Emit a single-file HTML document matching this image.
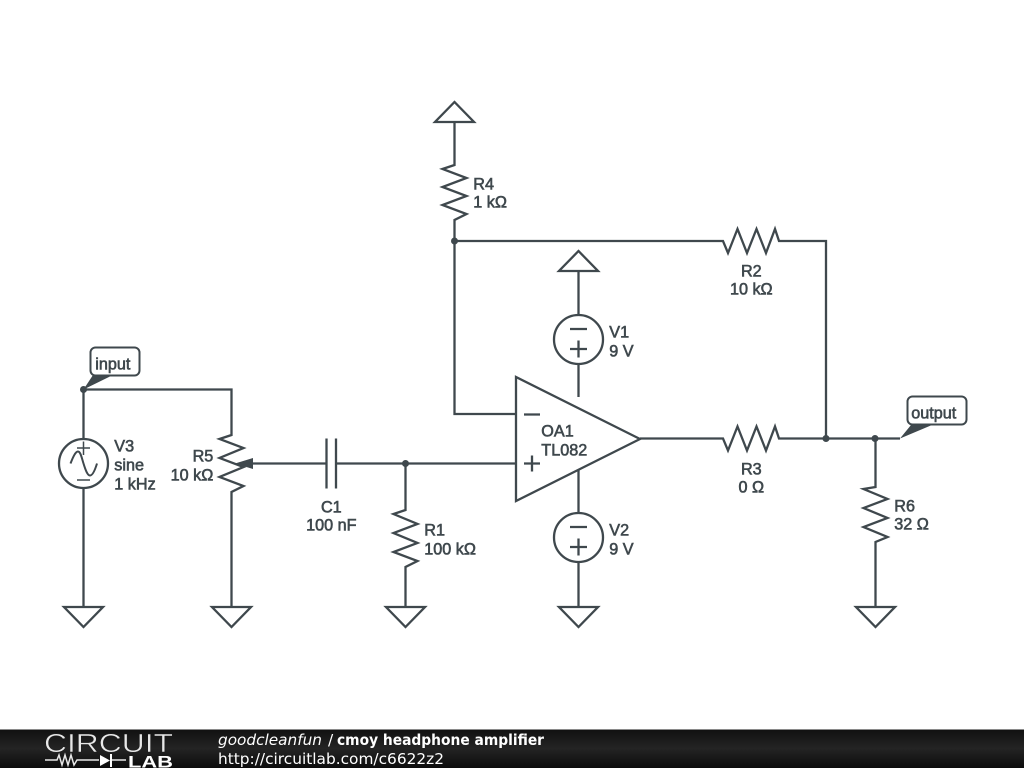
<!DOCTYPE html>
<html><head><meta charset="utf-8"><style>
html,body{margin:0;padding:0;background:#fff;width:1024px;height:768px;overflow:hidden}
svg{display:block}
.w{fill:none;stroke:#3f484d;stroke-width:2.300;stroke-linejoin:miter}
.t{font-family:"Liberation Sans",sans-serif;font-size:16.200px;fill:#3f484d;stroke:#3f484d;stroke-width:.6px}
.f{font-family:"DejaVu Sans",sans-serif;font-size:15.400px;fill:#fff}
</style></head><body>
<svg width="1024" height="768" viewBox="0 0 1024 768" xmlns="http://www.w3.org/2000/svg">
<defs><linearGradient id="g" x1="0" y1="0" x2="0" y2="1"><stop offset="0" stop-color="#101010"/><stop offset=".5" stop-color="#242424"/><stop offset="1" stop-color="#0c0c0c"/></linearGradient></defs>
<rect width="1024" height="768" fill="#fff"/>
<g class="w">
<!-- grounds -->
<path d="M435 122H474L454.500 102Z"/>
<path d="M559 271H598L578.500 251Z"/>
<path d="M64 607H103L83.500 627Z"/>
<path d="M212 607H251L231.500 627Z"/>
<path d="M386 607H425L405.500 627Z"/>
<path d="M559 607H598L578.500 627Z"/>
<path d="M856 607H895L875.500 627Z"/>
<!-- R4 -->
<path d="M454.500 122V165L442.500 169L466.500 178L442.500 187L466.500 196L442.500 205L466.500 214L454.500 220V241"/>
<path d="M454.500 241V414H516"/>
<!-- R2 -->
<path d="M454.500 241H723L728 253L737.500 229L747 253L756.500 229L766 253L775 229L779 241H826V438"/>
<!-- V1 -->
<path d="M578.500 271V315M578.500 364V397"/>
<circle cx="578.500" cy="339.500" r="24.500"/>
<path d="M570 329H587M570 349H587M578.500 340.500V357.500"/>
<!-- V2 -->
<path d="M578.500 470V513M578.500 562V607"/>
<circle cx="578.500" cy="537.500" r="24.500"/>
<path d="M570 527H587M570 547H587M578.500 538.500V555.500"/>
<!-- op amp -->
<path d="M516 377V501L640 439Z"/>
<path d="M524 414.500H540M524 463.500H540M532 455.500V471.500"/>
<!-- output -->
<path d="M640 438.500H723L728 450.500L737.500 426.500L747 450.500L756.500 426.500L766 450.500L775 426.500L779 438.500H900"/>
<!-- R6 -->
<path d="M875.500 438V487L863.500 489L887.500 499L863.500 508L887.500 518L863.500 527L887.500 537L875.500 542V607"/>
<!-- input wire and R5 -->
<path d="M83.500 389.500H231.500V435L219.500 439L243.500 448L219.500 458L243.500 467L219.500 477L243.500 486L231.500 492V607"/>
<!-- V3 -->
<path d="M83.500 389V438M83.500 488V607"/>
<circle cx="83.500" cy="463.500" r="24.500"/>
<path d="M77 448H90M83.500 441.500V455M77 480H90" stroke-width="1.500"/>
<path d="M70.500 463.500C73 457 75.500 451.500 78 451.500C80.500 451.500 81.500 457 83.500 463.500C85.500 470 87.500 475.500 90 475.500C92.500 475.500 95 470 97 463.500" stroke-width="2"/>
<!-- wiper, C1, R1 -->
<path d="M250 463.500H327"/>
<path d="M326.500 438.500V488.500M336 438.500V488.500"/>
<path d="M336 463.500H516"/>
<path d="M405.500 463V510L393.500 514L417.500 524L393.500 533L417.500 543L393.500 552L417.500 561L405.500 567V607"/>
</g>
<g fill="#3f484d">
<path d="M235 463.500L253 458V469Z"/>
<circle cx="83.500" cy="389.500" r="3.500"/>
<circle cx="454.500" cy="241" r="3.500"/>
<circle cx="826" cy="438.500" r="3.500"/>
<circle cx="875" cy="438.500" r="3.500"/>
<circle cx="405.500" cy="463.500" r="3.500"/>
<path d="M83.500 389.500L93 375H113Z"/>
<path d="M900 438.500L911 425H932Z"/>
</g>
<rect x="90.500" y="347.500" width="49" height="28" rx="5" fill="#fff" stroke="#3f484d" stroke-width="2"/>
<rect x="907.500" y="396.500" width="59" height="28" rx="5" fill="#fff" stroke="#3f484d" stroke-width="2"/>
<g class="t" transform="translate(0.300 0.700)">
<text x="95" y="369">input</text>
<text x="911" y="418">output</text>
<text x="473" y="189">R4</text><text x="473" y="207">1 kΩ</text>
<text x="751" y="276" text-anchor="middle">R2</text><text x="751" y="294" text-anchor="middle">10 kΩ</text>
<text x="609" y="337">V1</text><text x="609" y="356">9 V</text>
<text x="609" y="535">V2</text><text x="609" y="554">9 V</text>
<text x="541" y="436">OA1</text><text x="541" y="455">TL082</text>
<text x="751" y="474" text-anchor="middle">R3</text><text x="751" y="492" text-anchor="middle">0 Ω</text>
<text x="894" y="511">R6</text><text x="894" y="529">32 Ω</text>
<text x="424" y="535">R1</text><text x="424" y="554">100 kΩ</text>
<text x="331" y="512" text-anchor="middle">C1</text><text x="331" y="530" text-anchor="middle">100 nF</text>
<text x="114" y="451">V3</text><text x="114" y="470">sine</text><text x="114" y="489">1 kHz</text>
<text x="213" y="461" text-anchor="end">R5</text><text x="213" y="480" text-anchor="end">10 kΩ</text>
</g>
<!-- footer -->
<rect y="729" width="1024" height="39" fill="url(#g)"/>
<rect y="729" width="1024" height="1" fill="#8a8a8a"/>
<text x="44" y="752" font-family="'Liberation Sans',sans-serif" font-size="26" fill="#e8e8e8" textLength="129" lengthAdjust="spacingAndGlyphs" stroke="#1b1b1b" stroke-width=".5">CIRCUIT</text>
<path d="M45 760H57L59 755L62 765L65 755L68 765L71 755L74 765L77 760H99M126 760H112" fill="none" stroke="#e8e8e8" stroke-width="1.500"/>
<path d="M100 755V766L110 760.500Z" fill="#fff"/><rect x="110" y="754" width="2" height="13" fill="#fff"/>
<text x="128" y="767.500" font-family="'Liberation Sans',sans-serif" font-weight="bold" font-size="17" fill="#fff" textLength="45" lengthAdjust="spacingAndGlyphs">LAB</text>
<text x="218" y="745" class="f" font-style="italic" textLength="104" lengthAdjust="spacingAndGlyphs">goodcleanfun</text>
<text x="328" y="745" class="f">/</text>
<text x="337" y="745" class="f" font-weight="bold" textLength="207" lengthAdjust="spacingAndGlyphs">cmoy headphone amplifier</text>
<text x="218" y="764" class="f" textLength="226" lengthAdjust="spacingAndGlyphs">http://circuitlab.com/c6622z2</text>
</svg>
</body></html>
